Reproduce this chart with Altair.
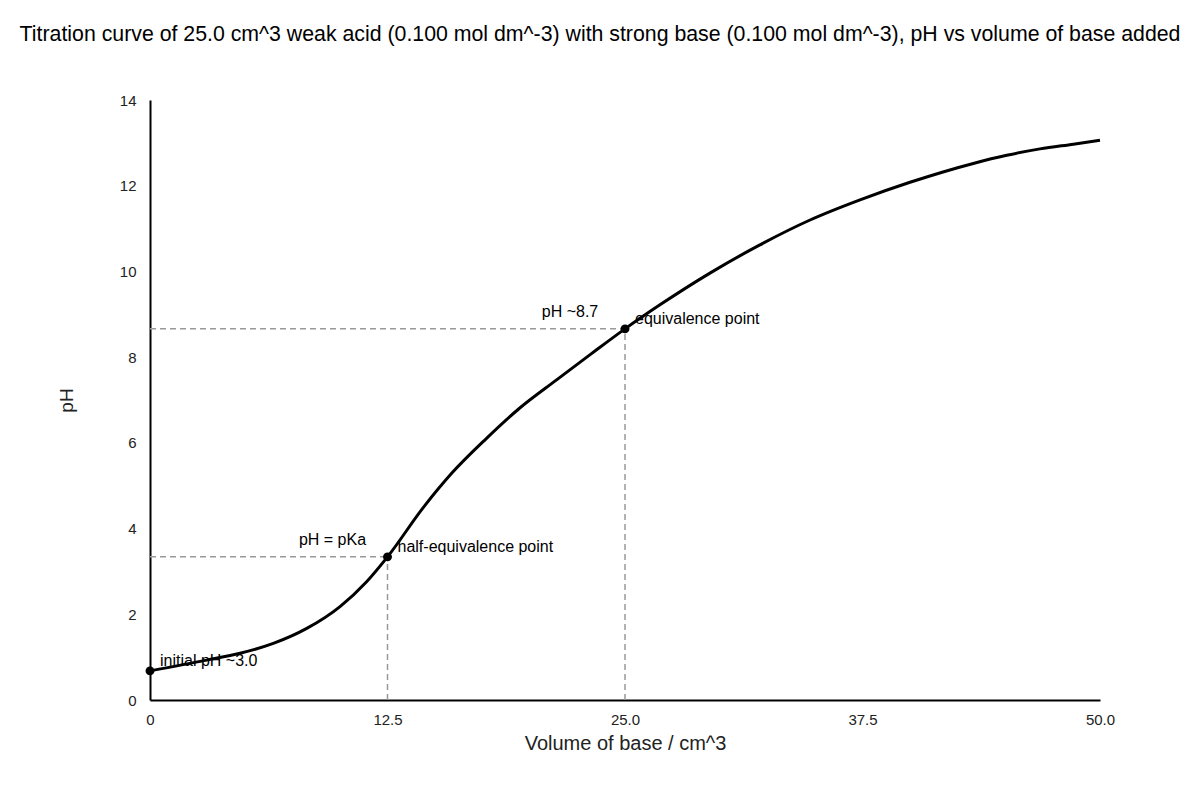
import altair as alt
import pandas as pd

FONT = "Liberation Sans"

volume = [0, 2.98, 4.74, 6.49, 8.25, 10.0, 11.4, 12.5, 14.4, 15.9, 17.7, 19.4, 21.4,
          23.2, 25.0, 26.84, 29.47, 32.1, 34.74, 37.37, 40.0, 43.33, 45.09, 46.84, 48.6, 50.0]
ph = [0.68, 0.93, 1.09, 1.32, 1.67, 2.18, 2.76, 3.34, 4.5, 5.3, 6.1, 6.79, 7.47,
      8.07, 8.66, 9.22, 9.96, 10.62, 11.2, 11.67, 12.08, 12.52, 12.71, 12.86, 12.97, 13.06]

key_vol = [0, 12.5, 25.0]
key_ph = [0.68, 3.34, 8.66]
key_label = ["initial pH ~3.0", "half-equivalence point", "equivalence point"]

ref_vol = [12.5, 25.0]
ref_ph = [3.34, 8.66]
ref_label = ["pH = pKa", "pH ~8.7"]

x_ticks = [0, 12.5, 25.0, 37.5, 50.0]
y_ticks = [0, 2, 4, 6, 8, 10, 12, 14]

curve_df = pd.DataFrame({"v": volume, "ph": ph})
key_df = pd.DataFrame({"v": key_vol, "ph": key_ph, "label": key_label})
ref_df = pd.DataFrame({"v": ref_vol, "ph": ref_ph, "label": ref_label, "zero": [0, 0]})

xs = alt.Scale(domain=[0, 50], nice=False, zero=False)
ys = alt.Scale(domain=[0, 14], nice=False)

x_axis = alt.Axis(values=x_ticks, labelExpr="datum.value == 0 ? '0' : format(datum.value, '.1f')",
                  title="Volume of base / cm^3", labelPadding=12, titlePadding=6,
                  titleFontSize=20, labelFlush=False)
y_axis = alt.Axis(values=y_ticks, title="pH", labelPadding=14, titlePadding=43,
                  titleFontSize=19, labelBaseline="middle")


def X(field):
    return alt.X(field, type="quantitative", scale=xs, axis=x_axis)


def Y(field):
    return alt.Y(field, type="quantitative", scale=ys, axis=y_axis)


curve = alt.Chart(curve_df).mark_line(color="black", strokeWidth=3, interpolate="monotone").encode(
    x=X("v"), y=Y("ph"),
)

hline = alt.Chart(ref_df).mark_rule(color="#999", strokeDash=[6, 4], strokeWidth=1.5).encode(
    x=X("zero"), x2="v:Q", y=Y("ph")
)
vline = alt.Chart(ref_df).mark_rule(color="#999", strokeDash=[6, 4], strokeWidth=1.5).encode(
    x=X("v"), y=Y("zero"), y2="ph:Q"
)

pts = alt.Chart(key_df).mark_circle(color="black", size=80, opacity=1).encode(
    x=X("v"), y=Y("ph")
)
pt_text = alt.Chart(key_df).mark_text(align="left", baseline="middle", dx=10, dy=-10,
                                      fontSize=16, font=FONT, color="black").encode(
    x=X("v"), y=Y("ph"), text="label:N"
)
ref_text = alt.Chart(ref_df).mark_text(align="center", baseline="middle", dx=-55, dy=-17,
                                       fontSize=16, font=FONT, color="black").encode(
    x=X("v"), y=Y("ph"), text="label:N"
)

chart = alt.layer(hline, vline, curve, pts, pt_text, ref_text).properties(
    width=950, height=600,
    title=alt.TitleParams(
        "Titration curve of 25.0 cm^3 weak acid (0.100 mol dm^-3) with strong base (0.100 mol dm^-3), pH vs volume of base added",
        fontSize=21.3, fontWeight="normal", font=FONT, anchor="middle", dx=-25, offset=48,
        color="black"),
    autosize=alt.AutoSizeParams(type="none"),
    padding={"left": 142, "top": 92, "right": 90, "bottom": 90},
).configure(font=FONT).configure_view(stroke="transparent", strokeWidth=0).configure_axis(
    ticks=False, grid=False, domainColor="black", domainWidth=2,
    labelFontSize=15, titleFontWeight="normal",
    labelColor="#222", titleColor="#222", labelFont=FONT, titleFont=FONT,
)

chart.save("out.html", embed_options={"renderer": "svg", "actions": False})
